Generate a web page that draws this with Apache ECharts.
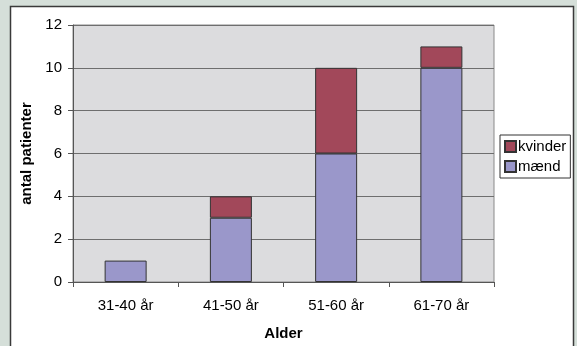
<!DOCTYPE html>
<html><head><meta charset="utf-8">
<script src="https://cdn.jsdelivr.net/npm/echarts@6/dist/echarts.min.js"></script>
<style>html,body{margin:0;padding:0;background:#D5DFD9;}#c{width:577px;height:346px;}</style>
</head><body><div id="c"></div>
<script>
var categories = ['31-40 år', '41-50 år', '51-60 år', '61-70 år'];
var maend = [1, 3, 6, 10];
var kvinder = [0, 1, 4, 1];
var yTicks = [0, 2, 4, 6, 8, 10, 12];

var chart = echarts.init(document.getElementById('c'), null, {renderer: 'canvas'});
var font = 'Liberation Sans, Arial, sans-serif';
var barStyle = function(c){ return {color: c, borderColor: '#333', borderWidth: 1}; };
chart.setOption({
  backgroundColor: '#D5DFD9',
  animation: false,
  graphic: [{
    type: 'rect', z: -10, silent: true,
    shape: {x: 10.5, y: 6.5, width: 563, height: 345},
    style: {fill: '#fff', stroke: '#3a3a3a', lineWidth: 1.5}
  }],
  grid: {left: 73, right: 83, top: 25, bottom: 62, show: true, backgroundColor: '#DCDCDE', borderColor: '#8a8a8a', borderWidth: 1},
  legend: {
    orient: 'vertical', left: 500, top: 135,
    data: [{name: 'kvinder'}, {name: 'mænd'}],
    itemWidth: 11, itemHeight: 11, itemGap: 5, icon: 'rect',
    padding: [4, 4, 4, 4],
    borderColor: '#333', borderWidth: 1, backgroundColor: '#fff',
    textStyle: {fontFamily: font, fontSize: 15, color: '#000', padding: [0, 0, 0, -3]}
  },
  xAxis: {
    type: 'category', data: categories,
    name: 'Alder', nameLocation: 'middle', nameGap: 44,
    nameTextStyle: {fontFamily: font, fontSize: 15, fontWeight: 'bold', color: '#000'},
    axisLine: {lineStyle: {color: '#555', width: 1}},
    axisTick: {show: true, length: 5, lineStyle: {color: '#555'}},
    axisLabel: {fontFamily: font, fontSize: 15, color: '#000', margin: 16}
  },
  yAxis: {
    type: 'value', min: 0, max: 12, interval: 2,
    name: 'antal patienter', nameLocation: 'middle', nameGap: 34, nameRotate: 90,
    nameTextStyle: {fontFamily: font, fontSize: 15, fontWeight: 'bold', color: '#000'},
    axisLine: {show: true, lineStyle: {color: '#555', width: 1}},
    axisTick: {show: true, length: 5, lineStyle: {color: '#555'}},
    axisLabel: {fontFamily: font, fontSize: 15, color: '#000', margin: 11,
      formatter: function(v){ return yTicks.indexOf(v) >= 0 ? String(v) : ''; }},
    splitLine: {lineStyle: {color: '#6e6e6e', width: 1}}
  },
  series: [
    {name: 'mænd', type: 'bar', stack: 's', barWidth: 42, data: maend, itemStyle: barStyle('#9A97CA')},
    {name: 'kvinder', type: 'bar', stack: 's', barWidth: 42,
     data: kvinder.map(function(v){ return v === 0 ? '-' : v; }), itemStyle: barStyle('#A2485A')}
  ]
});
</script></body></html>
